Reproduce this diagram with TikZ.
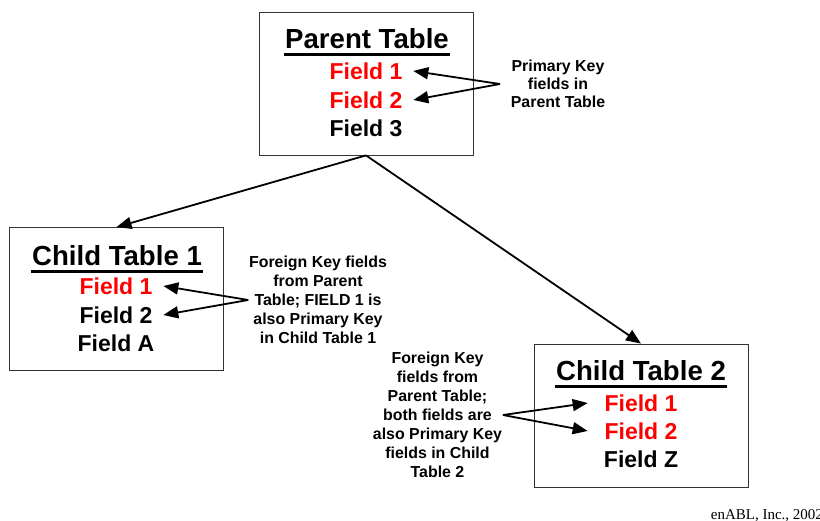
\documentclass[tikz,border=0pt]{standalone}
\usepackage{fontspec}
\setmainfont{Liberation Serif}
\setsansfont{Liberation Sans}
\usetikzlibrary{arrows.meta,positioning}
\definecolor{keyred}{RGB}{255,0,0}

\begin{document}
\begin{tikzpicture}[x=1pt, y=-1pt, ->, >={Triangle[length=15pt,width=12pt]}, line width=1.8pt,
	tablebox/.style={draw=black!80, line width=0.8pt, minimum width=214pt, minimum height=143pt, inner sep=0pt},
	tabletitle/.style={font=\sffamily\bfseries\fontsize{27.6}{30}\selectfont, inner sep=0pt},
	field/.style={font=\sffamily\bfseries\fontsize{23}{26}\selectfont, inner ysep=0pt, inner xsep=10pt},
	keyfield/.style={field, text=keyred},
	note/.style={font=\sffamily\bfseries\fontsize{15.9}{19}\selectfont, align=center, inner sep=0pt}]
	\useasboundingbox (0,0) rectangle (820,521);
	% tables
	\node [tablebox] (parent) at (366,83.5) {};
	\node [tablebox] (child1) at (116.5,299) {};
	\node [tablebox] (child2) at (641,415.5) {};
	\node [tabletitle] (pt) at (367,39) {Parent Table};
	\node [keyfield] (p1) at (366,71) {Field 1};
	\node [keyfield] (p2) at (366,100) {Field 2};
	\node [field] (p3) at (366,128) {Field 3};
	\node [tabletitle] (ct1) at (117,256) {Child Table 1};
	\node [keyfield] (c1f1) at (116,286) {Field 1};
	\node [field] (c1f2) at (116,315) {Field 2};
	\node [field] (c1fa) at (116,343) {Field A};
	\node [tabletitle] (ct2) at (641,371) {Child Table 2};
	\node [keyfield,inner xsep=16pt] (c2f1) at (641,403) {Field 1};
	\node [keyfield,inner xsep=16pt] (c2f2) at (641,431) {Field 2};
	\node [field] (c2fz) at (641,459) {Field Z};
	\foreach \t in {pt,ct1,ct2}
		\draw[-, line width=3pt] ([yshift=-4.5pt]\t.south west) -- ([yshift=-4.5pt]\t.south east);
	% notes
	\node [note, font=\sffamily\bfseries\fontsize{15.9}{18}\selectfont, inner xsep=10pt] (pknote) at (558,84) {Primary Key\\fields in\\Parent Table};
	\node [note, inner xsep=0pt] (fknote1) at (318,300) {Foreign Key fields\\from Parent\\Table; FIELD 1 is\\also Primary Key\\in Child Table 1};
	\node [note] (fknote2) at (437.5,415) {Foreign Key\\fields from\\Parent Table;\\both fields are\\also Primary Key\\fields in Child\\Table 2};
	\node [font=\rmfamily\fontsize{15}{17}\selectfont, anchor=base west, inner sep=0pt] (credit) at (710,519) {enABL, Inc., 2002};
	% relations
	\draw (parent.south) -- (child1.north);
	\draw (parent.south) -- (child2.north);
	\path (pknote.west) edge (p1.east);
	\path (pknote.west) edge (p2.east);
	\path (fknote1.west) edge (c1f1.east);
	\path (fknote1.west) edge (c1f2.east);
	\path (fknote2.east) edge (c2f1.west);
	\path (fknote2.east) edge (c2f2.west);
\end{tikzpicture}
\end{document}
